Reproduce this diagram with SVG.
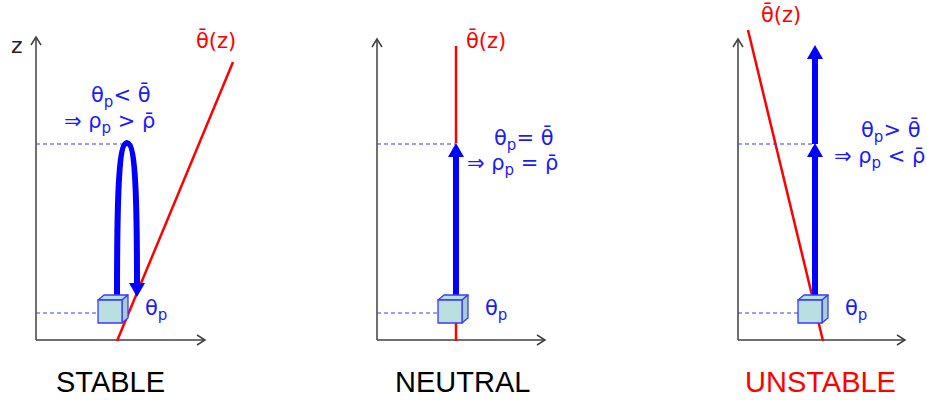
<svg xmlns="http://www.w3.org/2000/svg" width="927" height="400" viewBox="0 0 927 400">
<style>
.ax{stroke:#404040;stroke-width:1.5;fill:none}
.axh{stroke:#404040;stroke-width:1.5;fill:none;stroke-linejoin:miter}
.red{stroke:#ff0000;stroke-width:2.5;fill:none}
.dash{stroke:#3a3aff;stroke-width:1.2;stroke-dasharray:4 3;fill:none}
.shaft{stroke:#0000ff;stroke-width:6;fill:none}
.head{fill:#0000ff}
.bt{font-family:"DejaVu Sans",Verdana,sans-serif;font-size:21px;fill:#1a1aff}
.rt{font-family:"DejaVu Sans",Verdana,sans-serif;font-size:21px;fill:#ff0000}
.sub{font-size:15px}
.lab{font-family:"Liberation Sans",Arial,sans-serif;font-size:29px}
.cf{fill:#b9dfe1;stroke:#3a3aff;stroke-width:1.3;stroke-linejoin:round}
.cr{fill:#a4cdd0;stroke:#3a3aff;stroke-width:1.3;stroke-linejoin:round}
</style>
<defs>
<g id="cube">
<polygon class="cf" points="0,5 6,0 30,0 24,5"/>
<polygon class="cr" points="24,5 30,0 30,23 24,28"/>
<rect class="cf" x="0" y="5" width="24" height="23"/>
</g>
</defs>

<g id="connectors">
<path class="ax" d="M36,340 V37 M36,340 H205"/>
<path class="axh" d="M31,45 L36,37 L41,45 M197,335 L205,340 L197,345"/>
<path class="ax" d="M377,340 V39 M377,340 H545"/>
<path class="axh" d="M372,47 L377,39 L382,47 M537,335 L545,340 L537,345"/>
<path class="ax" d="M738,340 V39 M738,340 H905"/>
<path class="axh" d="M733,47 L738,39 L743,47 M897,335 L905,340 L897,345"/>
<line class="red" x1="117" y1="341" x2="233" y2="62"/>
<line class="red" x1="456" y1="46" x2="456" y2="143"/>
<line class="red" x1="456" y1="322" x2="456" y2="341"/>
<line class="red" x1="748" y1="30" x2="823" y2="341"/>
<line class="dash" x1="36" y1="144" x2="127" y2="144"/>
<line class="dash" x1="36" y1="313" x2="98" y2="313"/>
<line class="dash" x1="377" y1="144" x2="456" y2="144"/>
<line class="dash" x1="377" y1="313" x2="438" y2="313"/>
<line class="dash" x1="738" y1="144" x2="815" y2="144"/>
<line class="dash" x1="738" y1="313" x2="798" y2="313"/>
<path class="shaft" d="M117,298 C117,210 118,143 127,143 C136,143 137,210 137,285"/>
<polygon class="head" points="129,283 145,283 137,297"/>
<line class="shaft" x1="456" y1="298" x2="456" y2="155"/>
<polygon class="head" points="448,157 464,157 456,143"/>
<line class="shaft" x1="815" y1="298" x2="815" y2="155"/>
<polygon class="head" points="807,157 823,157 815,143"/>
<line class="shaft" x1="815" y1="144" x2="815" y2="57"/>
<polygon class="head" points="807,59 823,59 815,45"/>
</g>

<g id="stable">
<text x="11" y="53" class="bt" style="fill:#222;font-size:22px">z</text>
<text x="196" y="48" class="rt">θ̄(z)</text>
<text x="91" y="102" class="bt">θ<tspan class="sub" dy="5">p</tspan><tspan dy="-5">&lt; θ̄</tspan></text>
<text x="64" y="128" class="bt">⇒ ρ<tspan class="sub" dy="5">p</tspan><tspan dy="-5"> &gt; ρ̄</tspan></text>
<use href="#cube" x="98" y="295"/>
<text x="145" y="315" class="bt">θ<tspan class="sub" dy="5">p</tspan></text>
<text x="56" y="392" class="lab" fill="#000">STABLE</text>
</g>

<g id="neutral">
<text x="466" y="48" class="rt">θ̄(z)</text>
<text x="494" y="145" class="bt">θ<tspan class="sub" dy="5">p</tspan><tspan dy="-5">= θ̄</tspan></text>
<text x="467" y="170" class="bt">⇒ ρ<tspan class="sub" dy="5">p</tspan><tspan dy="-5"> = ρ̄</tspan></text>
<use href="#cube" x="438" y="295"/>
<text x="485" y="315" class="bt">θ<tspan class="sub" dy="5">p</tspan></text>
<text x="395" y="392" class="lab" fill="#000">NEUTRAL</text>
</g>

<g id="unstable">
<text x="761" y="22" class="rt">θ̄(z)</text>
<text x="861" y="137" class="bt">θ<tspan class="sub" dy="5">p</tspan><tspan dy="-5">&gt; θ̄</tspan></text>
<text x="834" y="163" class="bt">⇒ ρ<tspan class="sub" dy="5">p</tspan><tspan dy="-5"> &lt; ρ̄</tspan></text>
<use href="#cube" x="798" y="295"/>
<text x="845" y="315" class="bt">θ<tspan class="sub" dy="5">p</tspan></text>
<text x="745" y="392" class="lab" fill="#ff0000">UNSTABLE</text>
</g>
</svg>
